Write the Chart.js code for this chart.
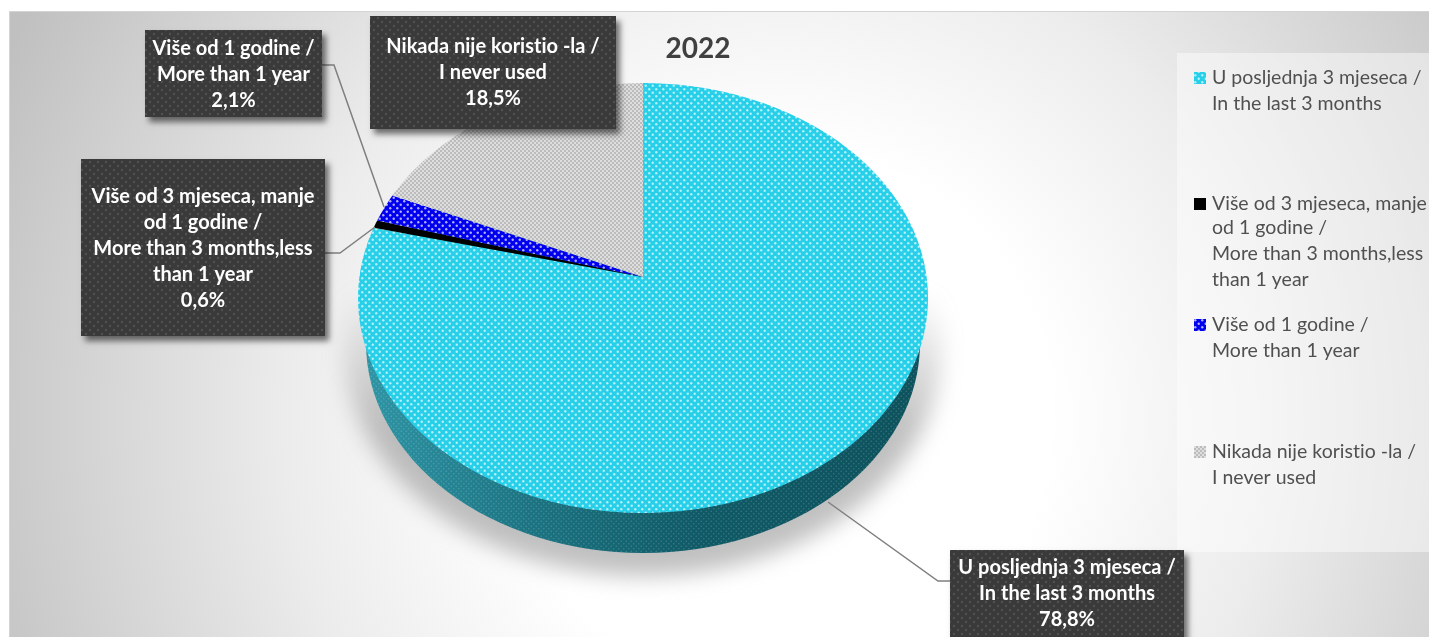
<!DOCTYPE html>
<html>
<head>
<meta charset="utf-8">
<title>2022</title>
<script src="https://cdn.jsdelivr.net/npm/chart.js@4/dist/chart.umd.min.js"></script>
<style>
  html, body { margin: 0; padding: 0; background: #fff; overflow: hidden; }
  #wrap { position: relative; width: 1429px; height: 637px; }
</style>
</head>
<body>
<div id="wrap"><canvas id="pieChart" width="1429" height="637"></canvas></div>
<script>
// --- Data ---
const chartTitle = '2022';
const categories = [
    ['U posljednja 3 mjeseca /', 'In the last 3 months'],
    ['Više od 3 mjeseca, manje', 'od 1 godine /', 'More than 3 months,less', 'than 1 year'],
    ['Više od 1 godine /', 'More than 1 year'],
    ['Nikada nije koristio -la /', 'I never used']
];
const shares = [78.8, 0.6, 2.1, 18.5];
const shareLabels = ['78,8%', '0,6%', '2,1%', '18,5%'];

// --- Layout (callouts follow the category order) ---
const calloutBoxes = [
    { x: 950, y: 550, w: 234, h: 92, firstLine: 568 },
    { x: 81, y: 159, w: 244, h: 177, firstLine: 197 },
    { x: 145, y: 30, w: 177, h: 87, firstLine: 49 },
    { x: 370, y: 16, w: 246, h: 113, firstLine: 47 }
];
const leaderLines = [
    [[950, 581], [938, 581], [828, 502]],
    [[325, 253], [340, 253], [375, 227]],
    [[322, 65], [334, 65], [384, 207]],
    []
];
const legendLineY = [[78, 104], [204, 228, 254, 280], [325, 351], [452, 478]];

// Tilted pie: circle coordinates are projected on to the page
const pie = { x: 643, y: 277, a: 212.9, c: -0.0977, d: 283.6 };
const wall = { x: 643, y: 343, rx: 277, ry: 210 };

const bodyFont = 'Lato, "Open Sans", sans-serif';

/**
 * Small repeating tile for the dotted fills
 */
function dotPattern(base, dot, size, radius) {
    const tile = document.createElement('canvas');
    tile.width = tile.height = size;
    const c = tile.getContext('2d');
    c.fillStyle = base;
    c.fillRect(0, 0, size, size);
    c.fillStyle = dot;
    [[size * 0.25, size * 0.25], [size * 0.75, size * 0.75]].forEach(p => {
        c.beginPath();
        c.arc(p[0], p[1], radius, 0, Math.PI * 2);
        c.fill();
    });
    return c.createPattern(tile, 'repeat');
}

function checkerPattern() {
    const tile = document.createElement('canvas');
    tile.width = tile.height = 4;
    const c = tile.getContext('2d');
    c.fillStyle = '#bcbcbc';
    c.fillRect(0, 0, 4, 4);
    c.fillStyle = '#dedede';
    c.fillRect(0, 0, 2, 2);
    c.fillRect(2, 2, 2, 2);
    return c.createPattern(tile, 'repeat');
}

const fills = [
    dotPattern('#27cfe8', '#b4f0fa', 7, 1.2),
    '#000000',
    dotPattern('#0000ee', '#b0b0ff', 7, 1.2),
    checkerPattern()
];
const calloutFill = dotPattern('#3a3a3a', '#525252', 8, 1.2);
const wallTexture = dotPattern('rgba(255,255,255,0)', 'rgba(255,255,255,0.18)', 5, 0.8);

function project(angle) {
    const u = Math.cos(angle);
    const v = Math.sin(angle);
    const w = 1 + pie.c * v;
    return [pie.x + pie.d * u / w, pie.y + pie.a * v / w];
}

function drawBackdrop(ctx) {
    const grad = ctx.createRadialGradient(780, 420, 0, 780, 420, 900);
    grad.addColorStop(0, '#ffffff');
    grad.addColorStop(0.3, '#ffffff');
    grad.addColorStop(0.55, '#ececec');
    grad.addColorStop(0.95, '#c0c0c0');
    ctx.fillStyle = grad;
    ctx.fillRect(9, 12, 1420, 625);
    ctx.fillStyle = '#d4d4d4';
    ctx.fillRect(9, 11, 1420, 1);
    ctx.fillRect(9, 11, 1, 626);
    ctx.fillStyle = 'rgba(255,255,255,0.45)';
    ctx.fillRect(1177, 53, 252, 499);
}

function drawTiltedPie(ctx, meta) {
    // soft shadow under the pie
    ctx.save();
    ctx.filter = 'blur(11px)';
    const shade = ctx.createLinearGradient(0, 290, 0, 430);
    shade.addColorStop(0, 'rgba(130,130,130,0)');
    shade.addColorStop(1, 'rgba(130,130,130,0.5)');
    ctx.fillStyle = shade;
    ctx.beginPath();
    ctx.ellipse(wall.x, wall.y + 4, wall.rx + 22, wall.ry + 19, 0, 0, Math.PI * 2);
    ctx.fill();
    ctx.restore();

    // side wall
    const side = ctx.createLinearGradient(360, 0, 925, 0);
    side.addColorStop(0, '#2f96a6');
    side.addColorStop(0.3, '#1c7482');
    side.addColorStop(0.6, '#0f5a66');
    side.addColorStop(1, '#0d525d');
    ctx.fillStyle = side;
    ctx.beginPath();
    ctx.ellipse(wall.x, wall.y, wall.rx, wall.ry, 0, 0, Math.PI * 2);
    ctx.fill();
    ctx.fillStyle = wallTexture;
    ctx.fill();

    // top face, one wedge per value
    meta.data.forEach((arc, i) => {
        const p = arc.getProps(['startAngle', 'endAngle'], true);
        ctx.beginPath();
        ctx.moveTo(pie.x, pie.y);
        const steps = Math.max(2, Math.ceil((p.endAngle - p.startAngle) * 60));
        for (let s = 0; s <= steps; s++) {
            const pt = project(p.startAngle + (p.endAngle - p.startAngle) * s / steps);
            ctx.lineTo(pt[0], pt[1]);
        }
        ctx.closePath();
        ctx.fillStyle = arc.options.backgroundColor;
        ctx.fill();
    });
}

function drawCallouts(ctx) {
    ctx.strokeStyle = '#7f7f7f';
    ctx.lineWidth = 1.5;
    leaderLines.forEach(line => {
        if (!line.length) return;
        ctx.beginPath();
        line.forEach((pt, i) => i ? ctx.lineTo(pt[0], pt[1]) : ctx.moveTo(pt[0], pt[1]));
        ctx.stroke();
    });

    ctx.textAlign = 'center';
    ctx.textBaseline = 'middle';
    calloutBoxes.forEach((box, i) => {
        ctx.save();
        ctx.shadowColor = 'rgba(0,0,0,0.55)';
        ctx.shadowBlur = 6;
        ctx.shadowOffsetX = 4;
        ctx.shadowOffsetY = 5;
        ctx.fillStyle = '#3a3a3a';
        ctx.fillRect(box.x, box.y, box.w, box.h);
        ctx.restore();
        ctx.fillStyle = calloutFill;
        ctx.fillRect(box.x, box.y, box.w, box.h);

        ctx.fillStyle = '#ffffff';
        ctx.font = 'bold 20px ' + bodyFont;
        ctx.letterSpacing = '0.01px'; // keeps the "ti" apart
        const lines = categories[i].concat(shareLabels[i]);
        lines.forEach((text, n) => {
            ctx.fillText(text, box.x + box.w / 2, box.firstLine + n * 26);
        });
    });
}

function drawLegend(ctx, meta) {
    ctx.textAlign = 'left';
    ctx.textBaseline = 'middle';
    ctx.letterSpacing = '0.01px';
    categories.forEach((lines, i) => {
        const ys = legendLineY[i];
        ctx.fillStyle = meta.data[i].options.backgroundColor;
        ctx.fillRect(1194, ys[0] - 6, 12, 12);
        ctx.fillStyle = '#505050';
        ctx.font = '19.5px ' + bodyFont;
        lines.forEach((text, n) => ctx.fillText(text, 1212, ys[n]));
    });
}

const tiltedPiePlugin = {
    id: 'tiltedPie',
    beforeDraw(chart) {
        drawBackdrop(chart.ctx);
    },
    beforeDatasetDraw(chart, args) {
        drawTiltedPie(chart.ctx, args.meta);
        return false; // the wedges are already on the canvas
    },
    afterDraw(chart) {
        const ctx = chart.ctx;
        const meta = chart.getDatasetMeta(0);
        drawLegend(ctx, meta);
        drawCallouts(ctx);
        ctx.fillStyle = '#404040';
        ctx.font = 'bold 28px ' + bodyFont;
        ctx.textAlign = 'center';
        ctx.fillText(chartTitle, 698, 49);
    }
};

new Chart(document.getElementById('pieChart'), {
    type: 'pie',
    data: {
        labels: categories.map(lines => lines.join(' ')),
        datasets: [{
            data: shares,
            backgroundColor: fills,
            borderWidth: 0
        }]
    },
    options: {
        responsive: false,
        animation: false,
        plugins: {
            legend: { display: false },
            tooltip: { enabled: false }
        }
    },
    plugins: [tiltedPiePlugin]
});
</script>
</body>
</html>
